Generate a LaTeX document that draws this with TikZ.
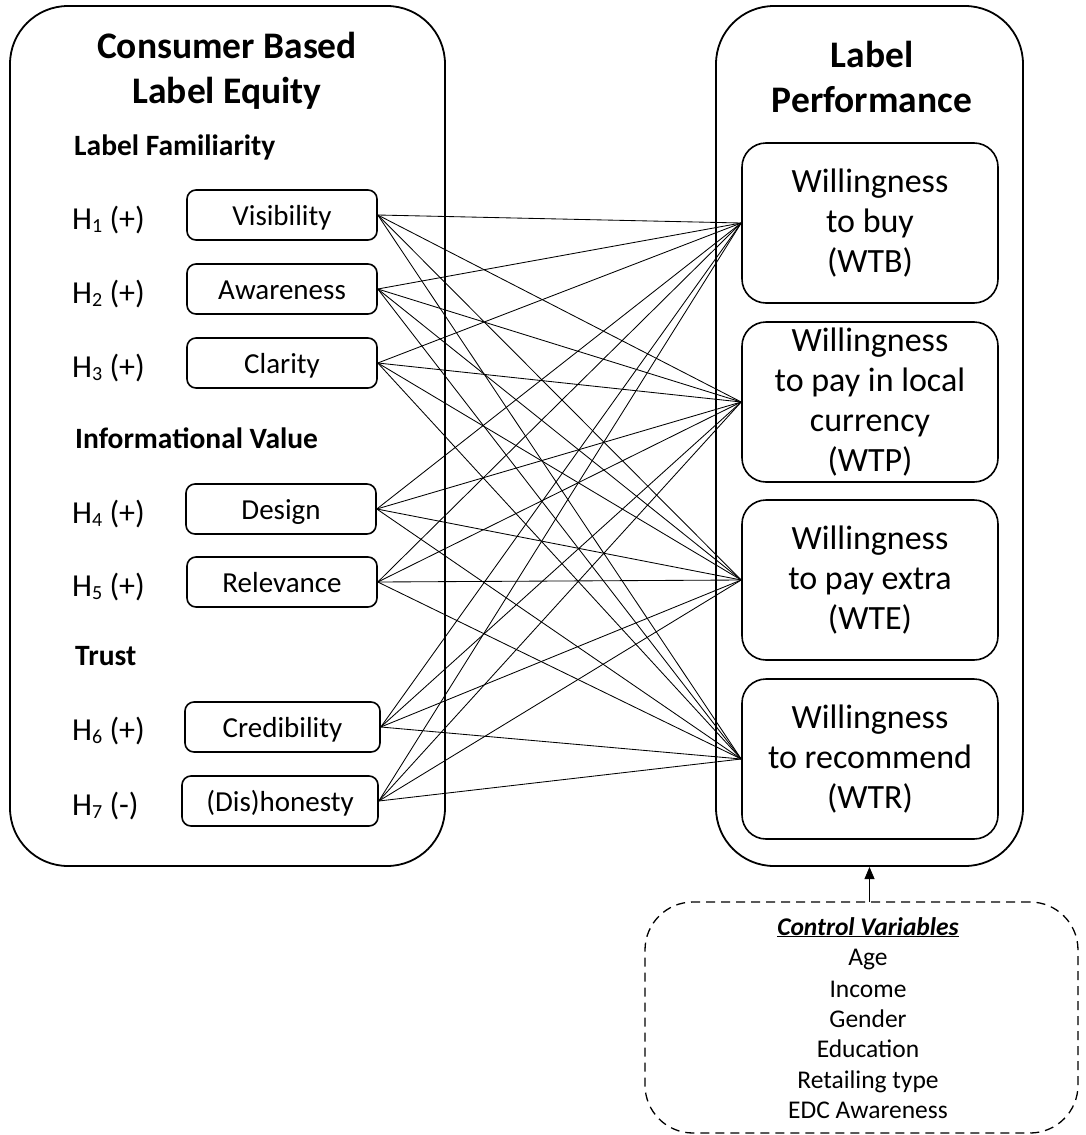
\documentclass[tikz,border=0pt]{standalone}
\usepackage{fontspec}
\setmainfont{Carlito}
\usetikzlibrary{arrows.meta}
\newcommand{\hsubnum}[1]{\raisebox{-0.1em}{\fontsize{20}{22}\selectfont #1}}
\begin{document}
\begin{tikzpicture}[x=1pt,y=-1pt,
  bigbox/.style={draw, line width=1.8pt, rounded corners=58pt},
  var/.style={draw, line width=1.6pt, rounded corners=9pt, minimum height=50pt, inner sep=0pt, text height=21pt, text depth=0pt, font=\fontsize{29}{32}\selectfont},
  perf/.style={draw, line width=1.6pt, rounded corners=24pt, minimum width=256pt, minimum height=160pt, inner sep=0pt, align=center, font=\fontsize{34}{40}\selectfont},
  hyp/.style={anchor=base west, inner sep=0pt, font=\fontsize{32}{36}\selectfont},
  grp/.style={anchor=base west, inner sep=0pt, font=\bfseries\fontsize{29.5}{34}\selectfont},
  title/.style={anchor=base, inner sep=0pt, font=\bfseries\fontsize{37.5}{45}\selectfont},
  ctl/.style={anchor=base, inner sep=0pt, font=\fontsize{25.5}{30}\selectfont},
  link/.style={line width=0.85pt}]
\useasboundingbox (0,0) rectangle (1086,1135);
% big boxes
\draw[bigbox] (10,6) rectangle (445,866);
\draw[bigbox] (716,6) rectangle (1023,866);
\node[title] (t1a) at (227,58) {Consumer Based};
\node[title] (t1b) at (227,103) {Label Equity};
\node[title] (t2a) at (872,67) {Label};
\node[title] (t2b) at (872,112) {Performance};
% groups
\node[grp] (g1) at (74,155) {Label Familiarity};
\node[grp] (g2) at (75,448) {Informational Value};
\node[grp] (g3) at (75,665) {Trust};
% hypotheses
\node[hyp] (h1) at (72,229) {H\hsubnum{1} (+)};
\node[hyp] (h2) at (72,303) {H\hsubnum{2} (+)};
\node[hyp] (h3) at (72,377) {H\hsubnum{3} (+)};
\node[hyp] (h4) at (72,523) {H\hsubnum{4} (+)};
\node[hyp] (h5) at (72,596) {H\hsubnum{5} (+)};
\node[hyp] (h6) at (72,740) {H\hsubnum{6} (+)};
\node[hyp] (h7) at (72,815) {H\hsubnum{7} (-)};
% variables
\node[var, minimum width=190pt] (v1) at (282,215) {Visibility};
\node[var, minimum width=190pt] (v2) at (282,289) {Awareness};
\node[var, minimum width=190pt] (v3) at (282,363) {Clarity};
\node[var, minimum width=190pt] (v4) at (281,509) {Design};
\node[var, minimum width=190pt] (v5) at (282,582) {Relevance};
\node[var, minimum width=195pt] (v6) at (282.5,727) {Credibility};
\node[var, minimum width=196pt] (v7) at (280,801) {(Dis)honesty};
% performance
\node[perf] (p1) at (870,223) {Willingness\\to buy\\(WTB)};
\node[perf] (p2) at (870,402) {Willingness\\to pay in local\\currency\\(WTP)};
\node[perf] (p3) at (870,580) {Willingness\\to pay extra\\(WTE)};
\node[perf] (p4) at (870,759) {Willingness\\to recommend\\(WTR)};
% links
\foreach \i in {1,...,7}{
  \foreach \j in {1,...,4}{
    \draw[link] (v\i.east) -- (p\j.west);
  }
}
% control variables
\node[draw, dash pattern=on 9pt off 6pt, line width=1.3pt, rounded corners=48pt, minimum width=433pt, minimum height=231pt, inner sep=0pt] (cv) at (861.5,1017.5) {};
\node[ctl] (c0) at (868,935) {\textbf{\textit{\underline{Control Variables}}}};
\node[ctl] (c1) at (868,965) {Age};
\node[ctl] (c2) at (868,997) {Income};
\node[ctl] (c3) at (868,1027) {Gender};
\node[ctl] (c4) at (868,1057) {Education};
\node[ctl] (c5) at (868,1088) {Retailing type};
\node[ctl] (c6) at (868,1118) {EDC Awareness};
\coordinate (arrtop) at (869.5,867);
\coordinate (arrbot) at (869.5,902);
\draw[line width=0.8pt, -{Triangle[length=12pt,width=10pt]}] (arrbot) -- (arrtop);
\end{tikzpicture}
\end{document}
